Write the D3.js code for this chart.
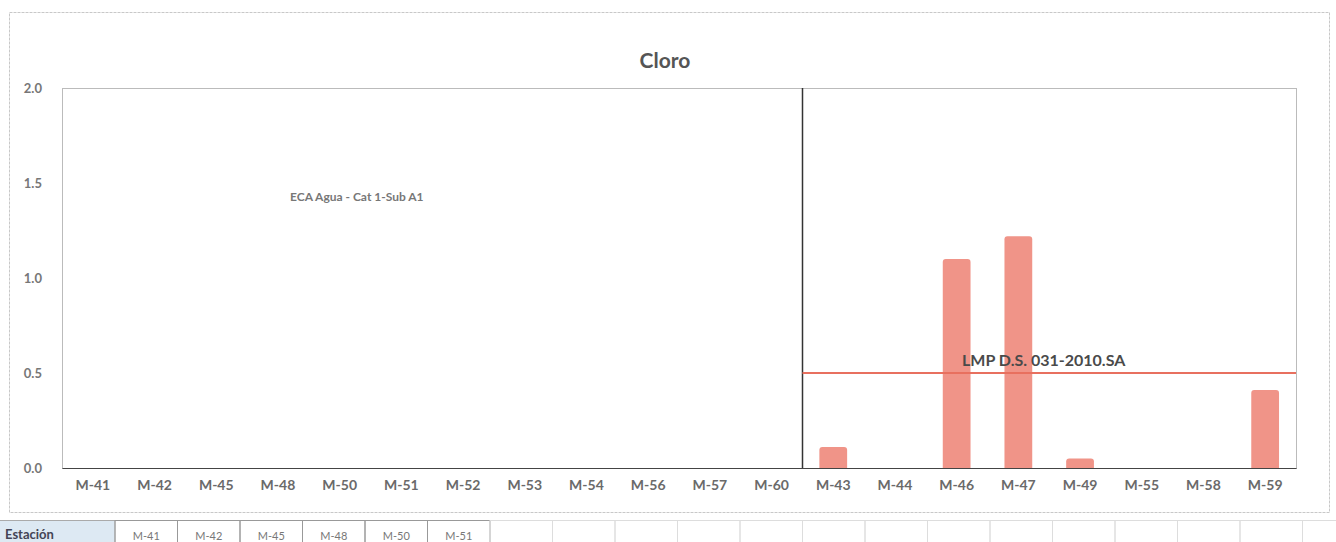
<!DOCTYPE html>
<html>
<head>
<meta charset="utf-8">
<script src="https://cdn.jsdelivr.net/npm/d3@7"></script>
<style>
  html, body { margin: 0; padding: 0; background: #fff; }
  svg { display: block; }
</style>
</head>
<body>
<svg id="chart" width="1336" height="542"></svg>
<script>
const categories = ["M-41","M-42","M-45","M-48","M-50","M-51","M-52","M-53","M-54","M-56","M-57","M-60","M-43","M-44","M-46","M-47","M-49","M-55","M-58","M-59"];
const values =     [null, null, null, null, null, null, null, null, null, null, null, null, 0.11, null, 1.10, 1.22, 0.05, null, null, 0.41];
const yTicks = [0, 0.5, 1.0, 1.5, 2.0];
const lmpValue = 0.5;
const lmpLabel = "LMP D.S. 031-2010.SA";
const ecaLabel = "ECA Agua - Cat 1-Sub A1";
const splitAfter = "M-60";
const tableHeader = "Estación";
const tableVisible = ["M-41","M-42","M-45","M-48","M-50","M-51"];
const title = "Cloro";

const svg = d3.select("#chart");
const font = "Lato, 'Open Sans', sans-serif";
const plotBottom = 468;

// outer chart frame
svg.append("rect").attr("x", 9.5).attr("y", 12.5).attr("width", 1320).attr("height", 500)
  .attr("fill", "none").attr("stroke", "#c8c8c8").attr("stroke-width", 1).attr("stroke-dasharray", "3,1");

const x = d3.scaleBand().domain(categories).range([62, 1296]).paddingInner(0.55).paddingOuter(0.275);
const y = d3.scaleLinear().domain([0, 2]).range([plotBottom, 88]);

// plot area frame
svg.append("rect").attr("x", 62.5).attr("y", y(2) + 0.5).attr("width", 1296 - 62).attr("height", plotBottom - y(2))
  .attr("fill", "none").attr("stroke", "#bbbbbb").attr("stroke-width", 1);

// title
svg.append("text").attr("x", 665).attr("y", 68).attr("text-anchor", "middle")
  .attr("font-family", font).attr("font-size", 21).attr("font-weight", 700).attr("fill", "#555").text(title);

// y axis labels
const yAxis = d3.axisLeft(y).tickValues(yTicks).tickFormat(d3.format(".1f")).tickSize(0).tickPadding(20);
const gy = svg.append("g").attr("transform", "translate(62,0)").call(yAxis);
gy.select(".domain").remove();
gy.selectAll("text").attr("font-family", font).attr("font-size", 13).attr("font-weight", 700).attr("fill", "#777");

// x axis
const xAxis = d3.axisBottom(x).tickSize(0).tickPadding(12);
const gx = svg.append("g").attr("transform", `translate(0,${plotBottom})`).call(xAxis);
gx.select(".domain").attr("stroke", "#444").attr("stroke-width", 1.2);
gx.selectAll("text").attr("font-family", font).attr("font-size", 14).attr("font-weight", 700).attr("fill", "#6a6a6a");

// bars
const data = categories.map((c, i) => ({c, v: values[i]})).filter(d => d.v != null);
svg.append("g").selectAll("path").data(data).join("path")
  .attr("d", d => {
    const x0 = x(d.c), w = x.bandwidth(), y0 = y(d.v), yb = y(0), r = Math.min(3, (yb - y0) / 2);
    return `M${x0},${yb}V${y0 + r}Q${x0},${y0} ${x0 + r},${y0}H${x0 + w - r}Q${x0 + w},${y0} ${x0 + w},${y0 + r}V${yb}Z`;
  })
  .attr("fill", "#f09488");

// split line
const splitIdx = categories.indexOf(splitAfter);
const splitX = Math.round((x(categories[splitIdx]) + x.bandwidth() + x(categories[splitIdx + 1])) / 2) + 0.5;
svg.append("line").attr("x1", splitX).attr("x2", splitX).attr("y1", y(2)).attr("y2", plotBottom)
  .attr("stroke", "#333").attr("stroke-width", 1.5);

// LMP line
svg.append("line").attr("x1", splitX).attr("x2", 1296).attr("y1", y(lmpValue)).attr("y2", y(lmpValue))
  .attr("stroke", "#e8705f").attr("stroke-width", 2);
svg.append("text").attr("x", 962).attr("y", y(lmpValue) - 7)
  .attr("font-family", font).attr("font-size", 16).attr("font-weight", 700).attr("fill", "#4a4a4a").text(lmpLabel);

// ECA label
svg.append("text").attr("x", 290).attr("y", 201)
  .attr("font-family", font).attr("font-size", 12).attr("font-weight", 700).attr("fill", "#777").text(ecaLabel);

// table (partially visible)
const tg = svg.append("g");
tg.append("rect").attr("x", -1).attr("y", 520.5).attr("width", 116).attr("height", 30)
  .attr("fill", "#dde9f3").attr("stroke", "#aaa");
tg.append("text").attr("x", 5).attr("y", 539).attr("font-family", font).attr("font-size", 13)
  .attr("font-weight", 700).attr("fill", "#445").text(tableHeader);
const cellW = 62.5;
categories.forEach((c, i) => {
  const cx = 115 + i * cellW;
  tg.append("rect").attr("x", cx).attr("y", 520.5).attr("width", cellW).attr("height", 30)
    .attr("fill", "none").attr("stroke", i < tableVisible.length ? "#999" : "#ddd");
  if (i < tableVisible.length) {
    tg.append("text").attr("x", cx + cellW / 2).attr("y", 540).attr("text-anchor", "middle")
      .attr("font-family", font).attr("font-size", 11).attr("fill", "#777").text(tableVisible[i]);
  }
});
</script>
</body>
</html>
